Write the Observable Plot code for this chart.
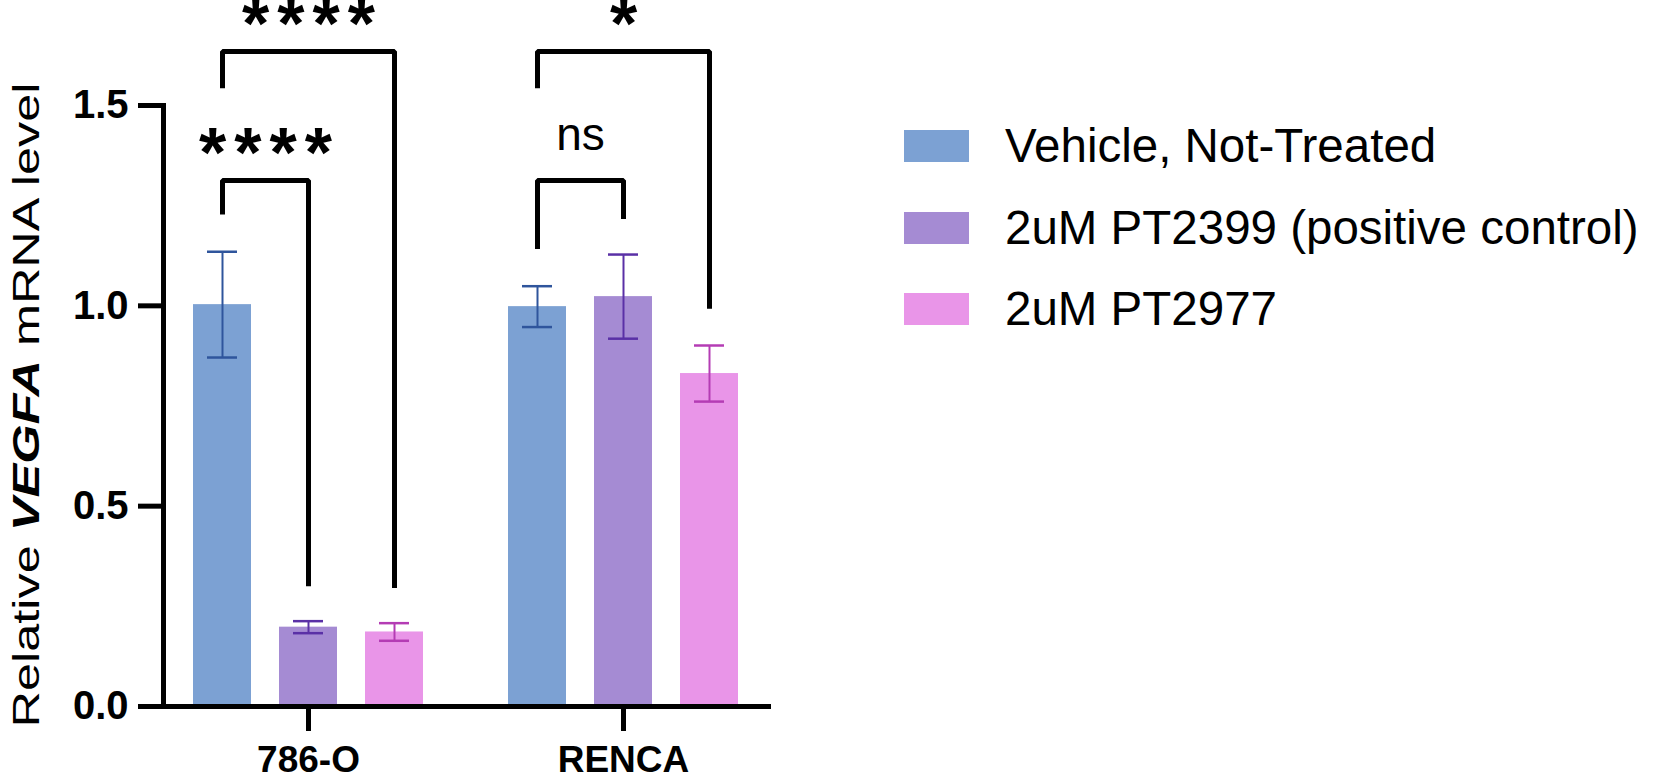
<!DOCTYPE html>
<html>
<head>
<meta charset="utf-8">
<script src="https://cdn.jsdelivr.net/npm/d3@7"></script>
<script src="https://cdn.jsdelivr.net/npm/@observablehq/plot@0.6"></script>
<style>
  html, body { margin: 0; padding: 0; background: #fff; }
  #wrap { position: relative; width: 1657px; height: 781px; background: #fff; font-family: "Liberation Sans", Arial, sans-serif; }
  #chart { position: absolute; left: 0; top: 0; }
  #legend { position: absolute; left: 904px; top: 130px; }
  .lg-row { display: flex; align-items: center; height: 32px; margin-bottom: 49.5px; }
  .lg-sw { width: 65px; height: 32px; flex: none; }
  .lg-tx { margin-left: 36px; font-size: 47.5px; line-height: 32px; color: #000; white-space: nowrap; font-family: "Liberation Sans", Arial, sans-serif; }
</style>
</head>
<body>
<div id="wrap"><div id="chart"></div><div id="legend"></div></div>
<script>
// ---- data ----
const groups = ["786-O", "RENCA"];
const series = ["Vehicle, Not-Treated", "2uM PT2399 (positive control)", "2uM PT2977"];
const mean786O = [1.003, 0.198, 0.186];
const err786O = [0.132, 0.015, 0.022];
const meanRENCA = [0.998, 1.023, 0.831];
const errRENCA = [0.051, 0.105, 0.070];
const yTicks = [0, 0.5, 1.0, 1.5];

// significance comparisons (bracket heights in data units)
const cmpGroup = ["786-O", "786-O", "RENCA", "RENCA"];
const cmpFrom = [0, 0, 0, 0];
const cmpTo = [1, 2, 1, 2];
const cmpTop = [1.313, 1.635, 1.313, 1.635];
const cmpFromEnd = [1.228, 1.543, 1.142, 1.543];
const cmpToEnd = [0.300, 0.296, 1.217, 0.993];
const cmpLabel = ["****", "****", "ns", "*"];

// ---- styles ----
const barColors = ["#7ca1d3", "#a58bd3", "#e995e8"];
const errColors = ["#2f559c", "#5a30a6", "#b43cb4"];
const FONT = "'Liberation Sans', Arial, sans-serif";

const means = [mean786O, meanRENCA];
const errs = [err786O, errRENCA];
const rows = groups.flatMap((g, gi) => series.map((s, si) => ({
  group: g, series: s, si, mean: means[gi][si], err: errs[gi][si]
})));
const bracketPts = cmpGroup.flatMap((g, k) => [
  {id: k, group: g, x: series[cmpFrom[k]], y: cmpFromEnd[k]},
  {id: k, group: g, x: series[cmpFrom[k]], y: cmpTop[k]},
  {id: k, group: g, x: series[cmpTo[k]], y: cmpTop[k]},
  {id: k, group: g, x: series[cmpTo[k]], y: cmpToEnd[k]}
]);

const STAR_SPACING = 8;

function build(step) {
  const labelMarks = cmpGroup.map((g, k) => {
    const mid = (cmpFrom[k] + cmpTo[k]) / 2;
    const anchor = series[Math.floor(mid)];
    const dx = (mid - Math.floor(mid)) * step;
    const isStar = cmpLabel[k] !== "ns";
    return Plot.text([{group: g, x: anchor, y: cmpTop[k], label: cmpLabel[k]}], {
      fx: "group", x: "x", y: "y", text: "label",
      dx: isStar ? dx + STAR_SPACING / 2 : dx,
      dy: isStar ? -3 : -30,
      lineAnchor: "bottom",
      textAnchor: "middle",
      fontSize: isStar ? 70 : 46,
      fontWeight: isStar ? "bold" : "normal",
      fontFamily: FONT,
      fill: "black"
    });
  });
  return Plot.plot({
    width: 880,
    height: 781,
    marginLeft: 163,
    marginRight: 112,
    marginTop: 105,
    marginBottom: 75,
    style: {fontFamily: FONT, color: "black", background: "transparent", overflow: "visible"},
    facet: {marginTop: 0, marginRight: 0, marginBottom: 0, marginLeft: 0},
    fx: {domain: groups, paddingInner: 25 / 315, paddingOuter: 0, label: null},
    x: {domain: series, paddingInner: 0.3275, paddingOuter: 0.345, axis: null},
    y: {domain: [0, 1.5], axis: null},
    marks: [
      Plot.barY(rows, {fx: "group", x: "series", y: "mean", fill: d => barColors[d.si]}),
      Plot.ruleX(rows, {fx: "group", x: "series", y1: d => d.mean - d.err, y2: d => d.mean + d.err,
        stroke: d => errColors[d.si], strokeWidth: 2}),
      Plot.tickY(rows, {fx: "group", x: "series", y: d => d.mean + d.err, stroke: d => errColors[d.si],
        strokeWidth: 2.5, insetLeft: 14, insetRight: 14}),
      Plot.tickY(rows, {fx: "group", x: "series", y: d => d.mean - d.err, stroke: d => errColors[d.si],
        strokeWidth: 2.5, insetLeft: 14, insetRight: 14}),
      Plot.line(bracketPts, {fx: "group", x: "x", y: "y", z: "id", stroke: "black", strokeWidth: 5,
        strokeLinejoin: "miter", strokeLinecap: "butt"}),
      ...labelMarks,
      Plot.axisY({ticks: yTicks, tickFormat: d => d.toFixed(1), tickSize: 25, tickPadding: 10,
        strokeWidth: 5, fontSize: 40, fontWeight: "bold", label: null}),
      Plot.axisFx({anchor: "bottom", tickSize: 25, tickPadding: 14, strokeWidth: 5,
        fontSize: 37, fontWeight: "bold", label: null}),
      Plot.frame({anchor: "left", facet: "super", strokeWidth: 5, strokeLinecap: "square"}),
      Plot.frame({anchor: "bottom", facet: "super", strokeWidth: 5, strokeLinecap: "square"})
    ]
  });
}

let chart = build(86.25);
const xs = chart.scale("x");
if (xs && xs.step) chart = build(xs.step);

const svg = d3.select(chart);
// spread the significance asterisks
svg.selectAll("text")
  .filter(function() { return /^\*+$/.test(this.textContent); })
  .style("letter-spacing", STAR_SPACING + "px");

// y-axis title with mixed styling
const title = svg.append("text")
  .attr("transform", "translate(39,405) rotate(-90)")
  .attr("text-anchor", "middle")
  .attr("textLength", 645)
  .attr("lengthAdjust", "spacingAndGlyphs")
  .style("font-family", FONT)
  .style("font-size", "37px")
  .attr("fill", "black");
title.append("tspan").text("Relative ");
title.append("tspan").text("VEGFA").style("font-weight", "bold").style("font-style", "italic");
title.append("tspan").text(" mRNA level");

document.getElementById("chart").appendChild(chart);

// legend
const legend = d3.select("#legend");
series.forEach((s, i) => {
  const row = legend.append("div").attr("class", "lg-row");
  row.append("div").attr("class", "lg-sw").style("background", barColors[i]);
  row.append("div").attr("class", "lg-tx").text(s);
});
</script>
</body>
</html>
